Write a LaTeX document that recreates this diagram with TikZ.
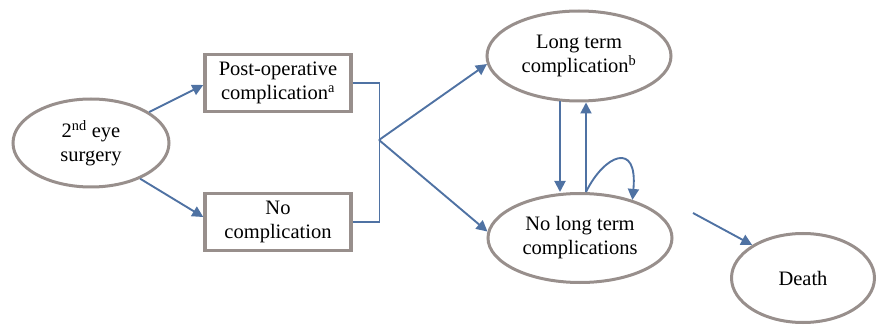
\documentclass[tikz,border=0pt]{standalone}
\usepackage{fontspec}
\setmainfont{Liberation Serif}
\usetikzlibrary{shapes.geometric,arrows.meta,calc}
\definecolor{ringgray}{RGB}{152,143,140}
\definecolor{arrblue}{RGB}{79,114,163}
\begin{document}
\begin{tikzpicture}[x=1pt,y=-1pt,
  txt/.style={font=\fontsize{20.5}{24}\selectfont,align=center,text=black},
  oval/.style={txt,ellipse,draw=ringgray,line width=3pt,inner sep=0pt},
  boxnode/.style={txt,rectangle,draw=ringgray,line width=3.5pt,inner sep=0pt,minimum width=146pt,minimum height=57pt},
  arr/.style={draw=arrblue,line width=1.9pt,-{Triangle[length=11pt,width=11pt]}},
  br/.style={draw=arrblue,line width=1.2pt}]
\useasboundingbox (0,0) rectangle (879,326);
\node[oval,minimum width=156pt,minimum height=88pt] (s) at (91,143) {2\textsuperscript{nd} eye\\surgery};
\node[boxnode] (p) at (278,83) {Post-operative\\complication\textsuperscript{a}};
\node[boxnode] (n) at (278,222) {No\\complication};
\node[oval,minimum width=184pt,minimum height=90pt] (L) at (579,56) {Long term\\complication\textsuperscript{b}};
\node[oval,minimum width=184pt,minimum height=89pt] (N) at (580,238) {No long term\\complications};
\node[oval,minimum width=143pt,minimum height=89pt] (D) at (803,278) {Death};
\coordinate (j) at (379,140);
\coordinate (ds) at (693,213);
\draw[arr] (s.28) -- ($(p.west)+(0,2)$);
\draw[arr] (s.-36) -- ($(n.west)+(0,-5)$);
\draw[br] (p.east) -- ++(27,0) |- (n.east);
\draw[arr] (j) -- (L.185);
\draw[arr] (j) -- (N.176);
\draw[arr] ($(L.south)+(-19,-1)$) -- ($(N.north)+(-20,0)$);
\coordinate (ub) at ($(N.north)+(6,0)$);
\draw[arr] (ub) -- ($(L.south)+(7,0)$);
\draw[arr] (ub) .. controls (604,155) and (638,140) .. (N.36);
\draw[arr] (ds) -- (D.147);
\end{tikzpicture}
\end{document}
